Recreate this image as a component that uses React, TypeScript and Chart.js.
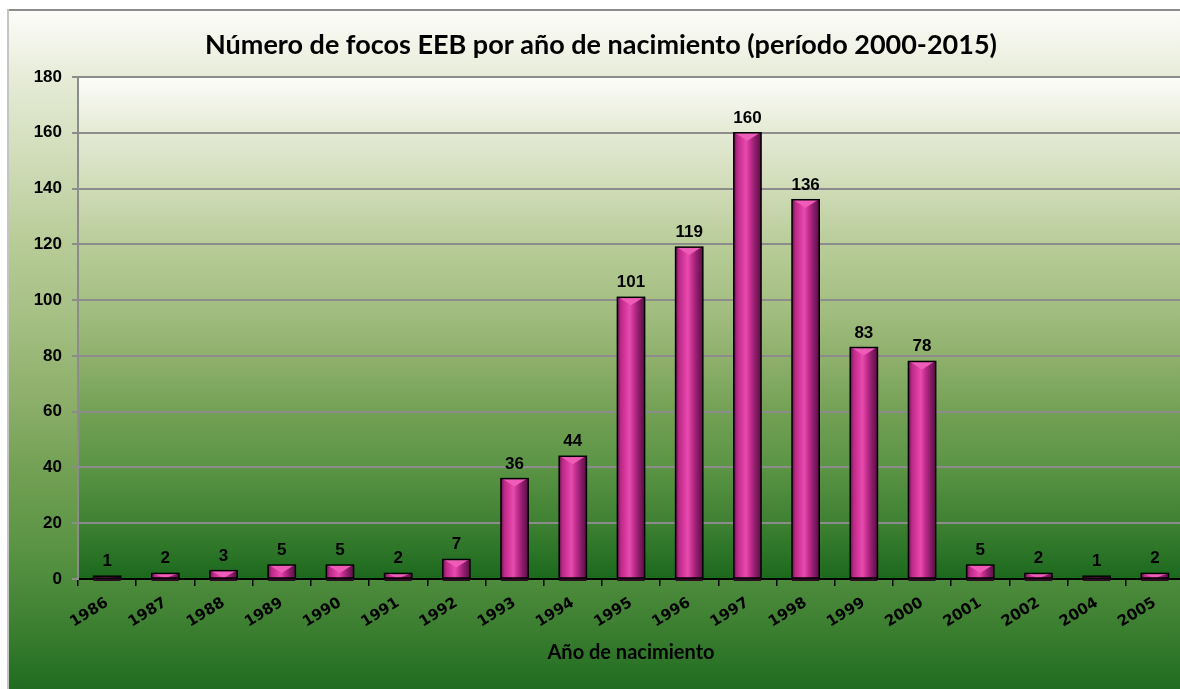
import React, { useEffect, useRef } from 'react';
import { Chart, registerables } from 'chart.js';
Chart.register(...registerables);

const categories = ['1986', '1987', '1988', '1989', '1990', '1991', '1992', '1993', '1994', '1995', '1996', '1997', '1998', '1999', '2000', '2001', '2002', '2004', '2005'];
const focos = [1, 2, 3, 5, 5, 2, 7, 36, 44, 101, 119, 160, 136, 83, 78, 5, 2, 1, 2];
const yTicks = [0, 20, 40, 60, 80, 100, 120, 140, 160, 180];
const titleText = 'Número de focos EEB por año de nacimiento (período 2000-2015)';
const xTitle = 'Año de nacimiento';

const W = 1190;
const H = 690;

const bgStops: [number, string][] = [
  [0, '#fdfdfa'],
  [0.11, '#e4ead4'],
  [0.22, '#d0dcb8'],
  [0.335, '#b8cc98'],
  [0.444, '#a6c084'],
  [0.56, '#8eb06c'],
  [0.67, '#72a054'],
  [0.78, '#5a9444'],
  [0.89, '#3e8032'],
  [1, '#1b691d'],
];

function addStops(g: CanvasGradient) {
  bgStops.forEach(([o, c]) => g.addColorStop(o, c));
}

export default function App() {
  const ref = useRef<HTMLCanvasElement>(null);
  useEffect(() => {
    if (!ref.current) return;
    const bgPlugin = {
      id: 'bgPlugin',
      beforeDraw(chart: any) {
        const { ctx, chartArea: a } = chart;
        ctx.save();
        let g = ctx.createLinearGradient(0, 0, 0, H);
        addStops(g);
        ctx.fillStyle = g;
        ctx.fillRect(0, 0, W, H);
        g = ctx.createLinearGradient(0, a.top, 0, a.bottom);
        addStops(g);
        ctx.fillStyle = g;
        ctx.fillRect(a.left, a.top, a.right - a.left, a.bottom - a.top);
        ctx.fillStyle = '#8c8c8c';
        ctx.fillRect(0, 0, W, 2);
        ctx.fillStyle = '#c4c4c4';
        ctx.fillRect(0, 0, 2, H);
        ctx.fillStyle = '#000';
        ctx.textAlign = 'center';
        ctx.textBaseline = 'middle';
        ctx.font = 'bold 27px Lato';
        ctx.fillText(titleText, 594, 36);
        ctx.font = 'bold 20px Lato';
        ctx.fillText(xTitle, (a.left + a.right) / 2, 644);
        ctx.restore();
      },
    };
    const barPlugin = {
      id: 'barPlugin',
      afterDatasetsDraw(chart: any) {
        const meta = chart.getDatasetMeta(0);
        const ctx = chart.ctx;
        ctx.save();
        meta.data.forEach((el: any, i: number) => {
          const { x, y, base, width } = el.getProps(['x', 'y', 'base', 'width'], true);
          const l = x - width / 2;
          const r = x + width / 2;
          const h = base - y;
          ctx.fillStyle = '#2a0c22';
          ctx.fillRect(l, base, width, 3);
          const g = ctx.createLinearGradient(l, 0, r, 0);
          g.addColorStop(0, '#6a1052');
          g.addColorStop(0.12, '#b82a84');
          g.addColorStop(0.3, '#d8389e');
          g.addColorStop(0.45, '#e64cae');
          g.addColorStop(0.6, '#c62e90');
          g.addColorStop(0.78, '#8e1e6c');
          g.addColorStop(1, '#5a0e44');
          ctx.fillStyle = g;
          ctx.fillRect(l, y, width, h);
          const bh = Math.min(8, h);
          ctx.beginPath();
          ctx.moveTo(l + 1, y);
          ctx.lineTo(r - 1, y);
          ctx.lineTo(x, y + bh);
          ctx.closePath();
          ctx.fillStyle = '#ee5cb8';
          ctx.fill();
          ctx.strokeStyle = '#000';
          ctx.lineWidth = 1.5;
          ctx.strokeRect(l, y, width, h);
          ctx.fillStyle = '#000';
          ctx.font = 'bold 17px "Liberation Sans"';
          ctx.textAlign = 'center';
          ctx.textBaseline = 'alphabetic';
          ctx.fillText(String(focos[i]), x, y - 10);
        });
        ctx.restore();
      },
    };
    const chart = new Chart(ref.current, {
      type: 'bar',
      data: {
        labels: categories,
        datasets: [
          {
            data: focos,
            backgroundColor: '#c8308f',
            borderWidth: 0,
            barPercentage: 0.9,
            categoryPercentage: 0.52,
          },
        ],
      },
      options: {
        animation: false,
        responsive: false,
        devicePixelRatio: 1,
        layout: { padding: { top: 68, right: 13, left: 0, bottom: 0 } },
        plugins: { legend: { display: false }, tooltip: { enabled: false }, title: { display: false } },
        scales: {
          x: {
            grid: { display: true, drawOnChartArea: false, offset: true, tickLength: 7, color: '#000', lineWidth: 1.5 },
            border: { color: '#000', width: 2 },
            ticks: {
              color: '#000',
              font: { family: 'DejaVu Sans', weight: 'bold', size: 15 },
              minRotation: 32,
              maxRotation: 32,
              autoSkip: false,
              padding: 8,
            },
            afterFit(s: any) {
              s.height = 120;
            },
          },
          y: {
            min: 0,
            max: 180,
            afterBuildTicks(s: any) {
              s.ticks = yTicks.map((v) => ({ value: v }));
            },
            ticks: {
              color: '#000',
              font: { family: 'Liberation Sans', weight: 'bold', size: 17 },
              padding: 10,
            },
            grid: { color: '#8c8c8c', lineWidth: 2, tickLength: 6 },
            border: { color: '#8c8c8c', width: 2 },
            afterFit(s: any) {
              s.width = 71;
            },
          },
        },
      },
      plugins: [bgPlugin, barPlugin],
    });
    return () => chart.destroy();
  }, []);
  return (
    <div style={{ position: 'fixed', left: 0, top: 0, width: 1180, height: 689, overflow: 'hidden', background: '#fff' }}>
      <canvas ref={ref} width={W} height={H} style={{ position: 'absolute', left: 7, top: 9, width: W, height: H }} />
    </div>
  );
}
